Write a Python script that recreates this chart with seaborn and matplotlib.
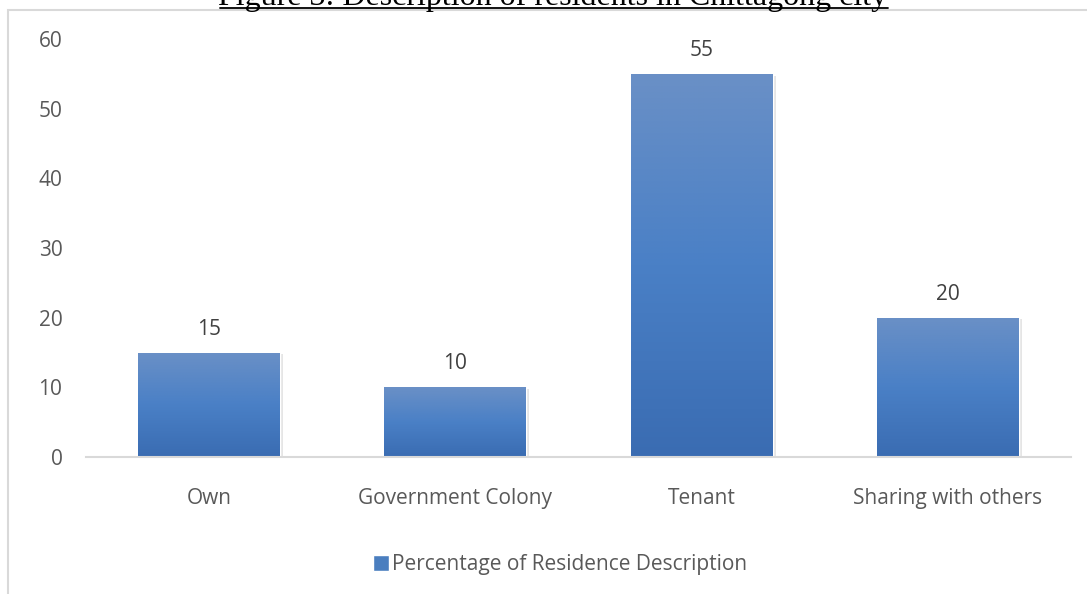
import matplotlib
matplotlib.use("Agg")
import matplotlib.pyplot as plt
import seaborn as sns
import numpy as np
import pandas as pd
from matplotlib.patches import Rectangle
from matplotlib.colors import LinearSegmentedColormap

categories = ["Own", "Government Colony", "Tenant", "Sharing with others"]
values = [15, 10, 55, 20]
yticks = [0, 10, 20, 30, 40, 50, 60]
series_name = "Percentage of Residence Description"
title = "Figure 3: Description of residents in Chittagong city"

sns.set_theme(style="white")
plt.rcParams['font.family'] = ['Open Sans', 'DejaVu Sans']

W, H = 1087, 594
fig = plt.figure(figsize=(W / 100, H / 100), dpi=100)

# outer chart frame (light gray)
fig.patches.append(Rectangle((8 / W, -0.1), 1.2, 1 - 10 / H + 0.1, transform=fig.transFigure,
                             fill=False, edgecolor="#d9d9d9", linewidth=1.5))

# caption, cut off at the top edge as in the source image
fig.text(553 / W, 1 - 5 / H, title, ha="center", va="baseline",
         fontsize=23, family="Liberation Serif", color="black")
fig.add_artist(plt.Line2D([220 / W, 888 / W], [1 - 7.5 / H, 1 - 7.5 / H],
                          transform=fig.transFigure, color="black", linewidth=1.3))

left, right = 86 / W, 1071 / W
bottom, top = 1 - 457 / H, 1 - 39 / H
ax = fig.add_axes([left, bottom, right - left, top - bottom])

df = pd.DataFrame({"cat": categories, "val": values})
sns.barplot(data=df, x="cat", y="val", ax=ax, color="#4a7ebf", width=0.576,
            saturation=1, label=series_name)

ax.set_xlabel("")
ax.set_ylabel("")
ax.set_yticks(yticks)
for s in ["top", "right", "left"]:
    ax.spines[s].set_visible(False)
ax.spines["bottom"].set_color("#d9d9d9")
ax.spines["bottom"].set_linewidth(1.5)
ax.tick_params(axis="both", length=0, colors="#595959", labelsize=15)
ax.tick_params(axis="y", pad=17)
ax.tick_params(axis="x", pad=22)

cmap = LinearSegmentedColormap.from_list("g", ["#3a6cb2", "#4a80c6", "#6a90c6"])
grad = np.linspace(0, 1, 256).reshape(-1, 1)
for p, v in zip(ax.patches, values):
    x0, w, h = p.get_x(), p.get_width(), p.get_height()
    ax.add_patch(Rectangle((x0 + 0.012, 0), w, h - 0.25, facecolor="#000000", alpha=0.10,
                           edgecolor="none", zorder=p.get_zorder() - 0.5))
    im = ax.imshow(grad, extent=(x0, x0 + w, 0, h), origin="lower", cmap=cmap,
                   aspect="auto", zorder=p.get_zorder() + 0.1)
    im.set_clip_path(p)
    ax.text(x0 + w / 2, h + 1.85, f"{v}", ha="center", va="bottom",
            fontsize=15, color="#404040")
ax.set_xlim(-0.5, len(categories) - 0.5)
ax.set_ylim(0, 60)

leg = ax.legend(loc="center", bbox_to_anchor=(0.481, -0.258), frameon=False,
                fontsize=15, handlelength=0.78, handleheight=0.78, handletextpad=0.15,
                labelcolor="#595959")
for hnd in leg.legend_handles:
    hnd.set_facecolor("#4a7ebf")

fig.savefig("out.png", dpi=100)
